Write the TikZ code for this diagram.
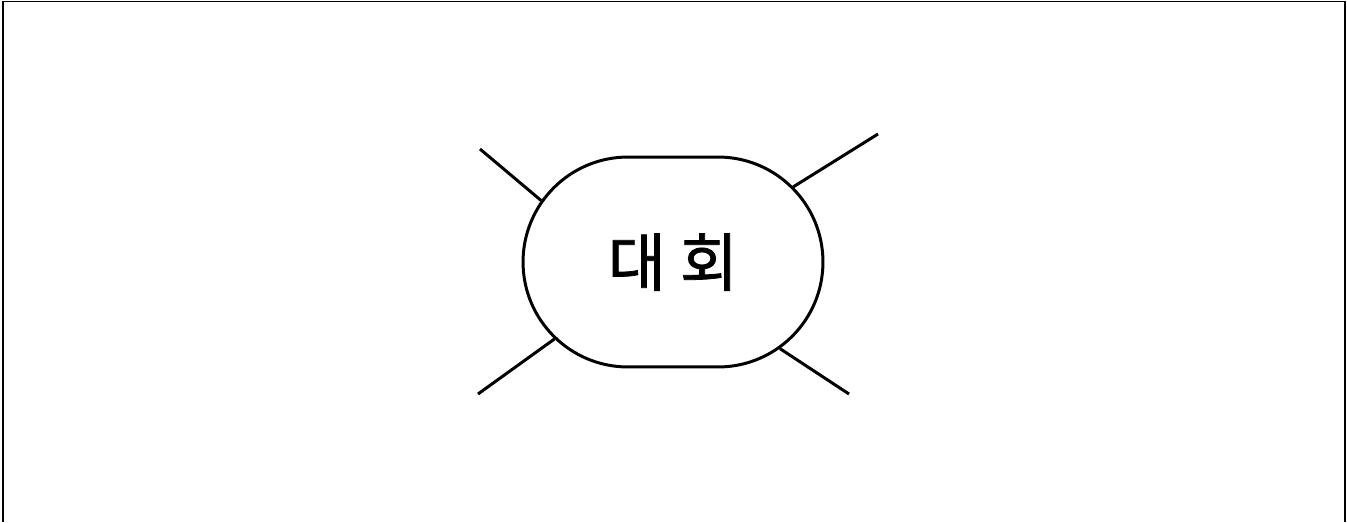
\documentclass[tikz,border=0pt]{standalone}
\usepackage{fontspec}
\newfontfamily\krfont[FakeBold=1.2]{Noto Sans CJK KR}
\usepackage{tikz}
\usetikzlibrary{shapes.misc}

\begin{document}
\begin{tikzpicture}[x=0.02cm, y=-0.02cm,
    bubble/.style={draw, rounded rectangle, line width=1.7pt,
        minimum width=6cm, minimum height=4.2cm, inner sep=0pt,
        font=\krfont\fontsize{36}{40}\selectfont},
    ray/.style={line width=1.7pt}]
    % 1. Khung
    \useasboundingbox (0,0) rectangle (1347,522);
    \draw[line width=0.8pt] (3,522) -- (3,1.5) -- (1345,1.5) -- (1345,522);

    % 2. Hình chính
    \node[bubble] (hoi) at (673,262) {대\hspace{0.22em}회};

    % 3. Các tia
    \coordinate (tl) at (480,149);
    \coordinate (tr) at (878,134);
    \coordinate (bl) at (478,394);
    \coordinate (br) at (849,394);
    \draw[ray] (hoi.155) -- (tl);
    \draw[ray] (hoi.32) -- (tr);
    \draw[ray] (hoi.213) -- (bl);
    \draw[ray] (hoi.321) -- (br);
\end{tikzpicture}
\end{document}
